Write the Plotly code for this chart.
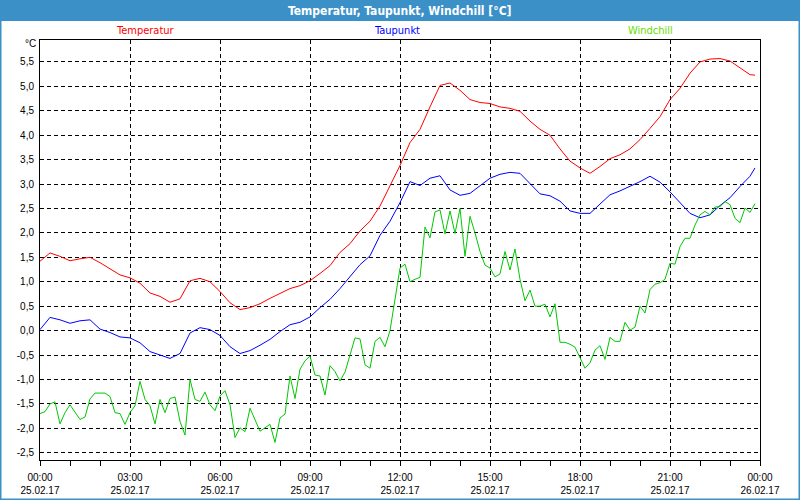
import pandas as pd
import plotly.graph_objs as go

start = pd.Timestamp('2017-02-25 00:00')

# Temperatur / Taupunkt alle 20 Minuten, letzter Wert um 23:50
minutes_smooth = list(range(0, 1440, 20)) + [1430]
temperatur = [1.42, 1.59, 1.52, 1.43, 1.47, 1.50, 1.39, 1.27, 1.14, 1.08, 0.97, 0.77, 0.70, 0.58, 0.65,
              1.02, 1.07, 1.00, 0.80, 0.57, 0.43, 0.47, 0.55, 0.66, 0.76, 0.86, 0.92, 1.02, 1.17, 1.33,
              1.60, 1.78, 2.04, 2.24, 2.55, 2.95, 3.38, 3.85, 4.12, 4.58, 5.02, 5.07, 4.92, 4.73, 4.67,
              4.65, 4.58, 4.55, 4.49, 4.29, 4.12, 4.00, 3.72, 3.47, 3.33, 3.22, 3.36, 3.52, 3.60, 3.72,
              3.91, 4.14, 4.38, 4.73, 4.96, 5.27, 5.50, 5.56, 5.57, 5.52, 5.38, 5.24, 5.23]
taupunkt = [0.02, 0.27, 0.22, 0.15, 0.20, 0.22, 0.03, -0.04, -0.13, -0.15, -0.25, -0.43, -0.50, -0.57, -0.47,
            -0.05, 0.06, 0.02, -0.10, -0.33, -0.47, -0.41, -0.30, -0.18, -0.02, 0.12, 0.17, 0.28, 0.47, 0.64,
            0.86, 1.10, 1.35, 1.53, 1.95, 2.24, 2.62, 3.05, 2.97, 3.12, 3.17, 2.88, 2.77, 2.81, 2.96,
            3.12, 3.20, 3.24, 3.22, 3.00, 2.80, 2.76, 2.65, 2.45, 2.40, 2.40, 2.60, 2.78, 2.86, 2.95,
            3.05, 3.16, 3.04, 2.84, 2.63, 2.40, 2.31, 2.37, 2.56, 2.72, 2.95, 3.16, 3.33]

# Windchill alle 10 Minuten
minutes_wind = list(range(0, 1440, 10))
windchill = [-1.70, -1.66, -1.50, -1.46, -1.91, -1.68, -1.52, -1.68, -1.82, -1.77,
             -1.40, -1.28, -1.28, -1.28, -1.35, -1.68, -1.70, -1.92, -1.68, -1.54,
             -1.04, -1.41, -1.54, -1.91, -1.41, -1.68, -1.39, -1.36, -1.86, -2.14,
             -1.00, -1.41, -1.45, -1.26, -1.52, -1.64, -1.34, -1.23, -1.52, -2.19,
             -1.99, -2.07, -1.59, -1.83, -2.06, -1.99, -1.92, -2.29, -1.79, -1.71,
             -0.93, -1.39, -0.79, -0.62, -0.52, -0.91, -0.93, -1.32, -0.72, -0.84,
             -1.03, -0.85, -0.50, -0.15, -0.17, -0.70, -0.77, -0.22, -0.14, -0.33,
             0.00, 0.66, 1.28, 1.36, 1.00, 1.05, 1.09, 2.12, 1.90, 2.43,
             2.47, 1.98, 2.45, 1.99, 2.50, 1.52, 2.34, 2.00, 1.62, 1.34,
             1.28, 1.10, 1.16, 1.62, 1.24, 1.67, 1.05, 0.61, 0.83, 0.50,
             0.50, 0.54, 0.28, 0.55, -0.24, -0.24, -0.28, -0.34, -0.55, -0.77,
             -0.66, -0.40, -0.31, -0.59, -0.14, -0.22, -0.22, 0.17, 0.01, 0.07,
             0.50, 0.36, 0.84, 0.95, 0.98, 1.05, 1.38, 1.36, 1.72, 1.89,
             1.89, 2.16, 2.37, 2.44, 2.37, 2.53, 2.54, 2.64, 2.58, 2.30,
             2.21, 2.51, 2.42, 2.60]

y_ticks = [-2.5, -2.0, -1.5, -1.0, -0.5, 0.0, 0.5, 1.0, 1.5, 2.0, 2.5, 3.0, 3.5, 4.0, 4.5, 5.0, 5.5]

t_smooth = [start + pd.Timedelta(minutes=m) for m in minutes_smooth]
t_wind = [start + pd.Timedelta(minutes=m) for m in minutes_wind]

data = [
    go.Scatter(x=t_smooth, y=temperatur, mode='lines', name='Temperatur',
               line=dict(color='#FF0000', width=1)),
    go.Scatter(x=t_smooth, y=taupunkt, mode='lines', name='Taupunkt',
               line=dict(color='#0000FF', width=1)),
    go.Scatter(x=t_wind, y=windchill, mode='lines', name='Windchill',
               line=dict(color='#00C800', width=1)),
]

W, H = 800, 500
ML, MR, MT, MB = 40, 40, 40, 40
PW, PH = W - ML - MR, H - MT - MB


def px_x(p):
    return (p - ML) / PW


def px_y(p):
    return 1 - (p - MT) / PH


small = dict(family='Liberation Sans Narrow, DejaVu Sans Condensed, Arial', size=11)

layout = go.Layout(
    width=W, height=H,
    margin=dict(l=ML, r=MR, t=MT, b=MB, autoexpand=False),
    paper_bgcolor='white', plot_bgcolor='white',
    showlegend=False,
    font=dict(family='Liberation Sans, Arial', size=10, color='black'),
    xaxis=dict(
        type='date',
        range=[start, start + pd.Timedelta(hours=24)],
        dtick=3 * 3600 * 1000, tick0=start,
        tickformat='%H:%M<br>%d.%m.%y',
        ticks='outside', ticklen=5, tickcolor='black', ticklabelstandoff=3,
        minor=dict(dtick=3600 * 1000, ticks='outside', ticklen=5, tickcolor='black', showgrid=False),
        showgrid=True, gridcolor='black', gridwidth=1, griddash='4px,3px',
        showline=True, linecolor='black', linewidth=1, mirror=True,
        zeroline=False, fixedrange=True, automargin=False,
    ),
    yaxis=dict(
        range=[-2.65, 5.95],
        tickvals=y_ticks,
        ticktext=[('%.1f' % v).replace('.', ',') for v in y_ticks],
        ticks='', ticklabelstandoff=3,
        showgrid=True, gridcolor='black', gridwidth=1, griddash='4px,3px',
        showline=True, linecolor='black', linewidth=1, mirror=True,
        zeroline=False, fixedrange=True, automargin=False,
    ),
    shapes=[
        dict(type='rect', xref='paper', yref='paper',
             x0=px_x(0), x1=px_x(W), y0=px_y(21), y1=px_y(0),
             fillcolor='#3C90C8', line=dict(width=0)),
        dict(type='rect', xref='paper', yref='paper',
             x0=px_x(0.5), x1=px_x(W - 0.5), y0=px_y(H - 0.5), y1=px_y(0.5),
             line=dict(color='#3C90C8', width=2)),
    ],
    annotations=[
        dict(text='<b>Temperatur, Taupunkt, Windchill [°C]</b>', xref='paper', yref='paper',
             x=px_x(400), y=px_y(11), showarrow=False, xanchor='center', yanchor='middle',
             font=dict(family=small['family'], size=12, color='white')),
        dict(text='Temperatur', xref='paper', yref='paper', x=px_x(145), y=px_y(30),
             showarrow=False, xanchor='center', yanchor='middle',
             font=dict(family=small['family'], size=11, color='#FF0000')),
        dict(text='Taupunkt', xref='paper', yref='paper', x=px_x(397), y=px_y(30),
             showarrow=False, xanchor='center', yanchor='middle',
             font=dict(family=small['family'], size=11, color='#0000FF')),
        dict(text='Windchill', xref='paper', yref='paper', x=px_x(650), y=px_y(30),
             showarrow=False, xanchor='center', yanchor='middle',
             font=dict(family=small['family'], size=11, color='#66DD00')),
        dict(text='°C', xref='paper', yref='paper', x=px_x(38), y=px_y(44),
             showarrow=False, xanchor='right', yanchor='middle',
             font=dict(family='Liberation Sans, Arial', size=10, color='black')),
    ],
)

fig = go.Figure(data=data, layout=layout)
# Seitenrand des Browsers entfernen, damit die Grafik bei (0,0) beginnt
fig.write_html('out.html', config={'displayModeBar': False},
               post_script="document.body.style.margin='0';")
